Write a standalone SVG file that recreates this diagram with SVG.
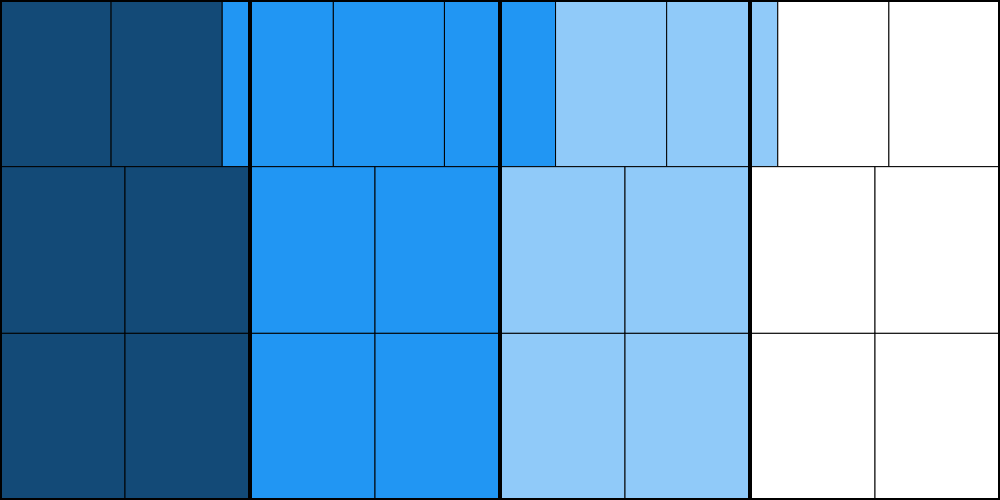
<svg xmlns="http://www.w3.org/2000/svg" width="1000" height="500" viewBox="0 0 1000 500">
<style>
.c{stroke:#000;stroke-width:1}
.d{fill:#134a77}
.b{fill:#2196f3}
.l{fill:#90caf9}
.w{fill:#fff}
.t{stroke:#000;stroke-width:4}
</style>
<g id="row1">
<rect class="c d" x="0" y="0" width="111.11" height="166.67"/>
<rect class="c d" x="111.11" y="0" width="111.11" height="166.67"/>
<rect class="c b" x="222.22" y="0" width="111.11" height="166.67"/>
<rect class="c b" x="333.33" y="0" width="111.11" height="166.67"/>
<rect class="c b" x="444.44" y="0" width="111.11" height="166.67"/>
<rect class="c l" x="555.56" y="0" width="111.11" height="166.67"/>
<rect class="c l" x="666.67" y="0" width="111.11" height="166.67"/>
<rect class="c w" x="777.78" y="0" width="111.11" height="166.67"/>
<rect class="c w" x="888.89" y="0" width="111.11" height="166.67"/>
</g>
<g id="row2">
<rect class="c d" x="0" y="166.67" width="125" height="166.67"/>
<rect class="c d" x="125" y="166.67" width="125" height="166.67"/>
<rect class="c b" x="250" y="166.67" width="125" height="166.67"/>
<rect class="c b" x="375" y="166.67" width="125" height="166.67"/>
<rect class="c l" x="500" y="166.67" width="125" height="166.67"/>
<rect class="c l" x="625" y="166.67" width="125" height="166.67"/>
<rect class="c w" x="750" y="166.67" width="125" height="166.67"/>
<rect class="c w" x="875" y="166.67" width="125" height="166.67"/>
</g>
<g id="row3">
<rect class="c d" x="0" y="333.33" width="125" height="166.67"/>
<rect class="c d" x="125" y="333.33" width="125" height="166.67"/>
<rect class="c b" x="250" y="333.33" width="125" height="166.67"/>
<rect class="c b" x="375" y="333.33" width="125" height="166.67"/>
<rect class="c l" x="500" y="333.33" width="125" height="166.67"/>
<rect class="c l" x="625" y="333.33" width="125" height="166.67"/>
<rect class="c w" x="750" y="333.33" width="125" height="166.67"/>
<rect class="c w" x="875" y="333.33" width="125" height="166.67"/>
</g>
<g id="dividers">
<line class="t" x1="250" y1="0" x2="250" y2="500"/>
<line class="t" x1="500" y1="0" x2="500" y2="500"/>
<line class="t" x1="750" y1="0" x2="750" y2="500"/>
<rect x="0" y="0" width="1000" height="500" fill="none" stroke="#000" stroke-width="4"/>
</g>
</svg>
